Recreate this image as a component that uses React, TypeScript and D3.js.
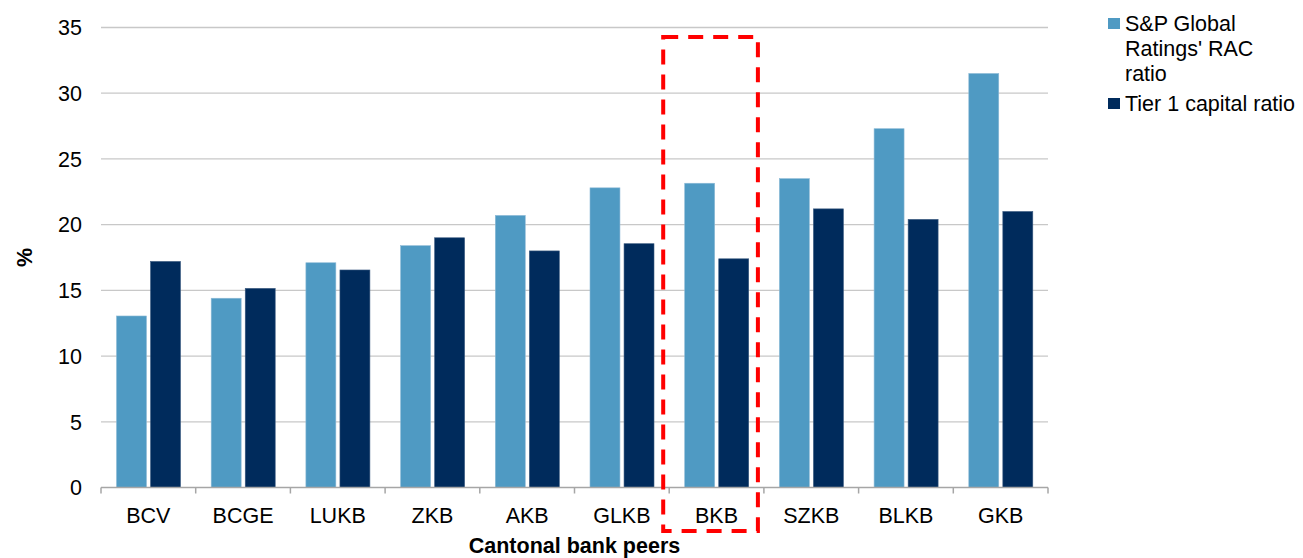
import React, { useRef, useEffect } from "react";
import * as d3 from "d3";

const banks = ["BCV", "BCGE", "LUKB", "ZKB", "AKB", "GLKB", "BKB", "SZKB", "BLKB", "GKB"];
const racRatio = [13.05, 14.4, 17.1, 18.4, 20.7, 22.8, 23.15, 23.5, 27.3, 31.5];
const tier1Ratio = [17.2, 15.15, 16.55, 19.0, 18.0, 18.55, 17.4, 21.2, 20.4, 21.0];
const seriesNames = ["S&P Global Ratings' RAC ratio", "Tier 1 capital ratio"];
const legendLines = [["S&P Global", "Ratings' RAC", "ratio"], ["Tier 1 capital ratio"]];
const yTicks = [0, 5, 10, 15, 20, 25, 30, 35];
const highlighted = "BKB";

const COLORS = ["#4F9AC3", "#002B5C"];
const FONT = "'Liberation Sans', Arial, sans-serif";
const FS = 21.5;

export default function App() {
  const svgRef = useRef<SVGSVGElement>(null);

  useEffect(() => {
    if (!svgRef.current) return;
    const svg = d3.select(svgRef.current);
    svg.selectAll("*").remove();

    const width = 1303;
    const height = 558;
    const margin = { top: 27.5, left: 101, right: 255, bottom: 70.5 };
    const innerW = width - margin.left - margin.right;
    const innerH = height - margin.top - margin.bottom;

    svg.attr("width", width).attr("height", height);
    const g = svg.append("g").attr("transform", `translate(${margin.left},${margin.top})`);

    const x = d3.scaleBand<string>().domain(banks).range([0, innerW]).padding(0);
    const xs = d3.scaleBand<string>().domain(seriesNames).range([15.5, 79.5]).paddingInner(0.12);
    const y = d3.scaleLinear().domain([0, 35]).range([innerH, 0]);

    // gridlines
    g.selectAll(".grid")
      .data(yTicks.filter(t => t > 0))
      .enter()
      .append("line")
      .attr("x1", 0)
      .attr("x2", innerW)
      .attr("y1", d => y(d))
      .attr("y2", d => y(d))
      .attr("stroke", "#C8C8C8")
      .attr("stroke-width", 1.3);

    // y labels
    g.selectAll(".ylab")
      .data(yTicks)
      .enter()
      .append("text")
      .attr("x", -19)
      .attr("y", d => y(d))
      .attr("dy", "0.36em")
      .attr("text-anchor", "end")
      .attr("font-family", FONT)
      .attr("font-size", FS)
      .attr("fill", "#000")
      .text(d => d);

    // bars
    const rows = banks.map((b, i) => ({ bank: b, values: [racRatio[i], tier1Ratio[i]] }));
    const groups = g.selectAll(".grp")
      .data(rows)
      .enter()
      .append("g")
      .attr("transform", d => `translate(${x(d.bank)},0)`);

    groups.selectAll("rect")
      .data(d => d.values.map((v, k) => ({ v, k })))
      .enter()
      .append("rect")
      .attr("x", d => xs(seriesNames[d.k])!)
      .attr("width", xs.bandwidth())
      .attr("y", d => y(d.v))
      .attr("height", d => y(0) - y(d.v))
      .attr("fill", d => COLORS[d.k])
      .attr("stroke", d => (d.k === 0 ? "#8CBAD6" : "#3A5A80"))
      .attr("stroke-width", 0.6);

    // x axis line and ticks
    g.append("line")
      .attr("x1", 0)
      .attr("x2", innerW)
      .attr("y1", y(0))
      .attr("y2", y(0))
      .attr("stroke", "#A6A6A6")
      .attr("stroke-width", 1.5);

    const bounds = banks.map(b => x(b)!).concat([innerW]);
    g.selectAll(".xtick")
      .data(bounds)
      .enter()
      .append("line")
      .attr("x1", d => d)
      .attr("x2", d => d)
      .attr("y1", y(0))
      .attr("y2", y(0) + 6)
      .attr("stroke", "#A6A6A6")
      .attr("stroke-width", 1.5);

    g.selectAll(".xlab")
      .data(banks)
      .enter()
      .append("text")
      .attr("x", d => x(d)! + x.bandwidth() / 2)
      .attr("y", y(0) + 35)
      .attr("text-anchor", "middle")
      .attr("font-family", FONT)
      .attr("font-size", FS)
      .attr("fill", "#000")
      .text(d => d);

    // axis titles
    g.append("text")
      .attr("x", innerW / 2)
      .attr("y", y(0) + 65)
      .attr("text-anchor", "middle")
      .attr("font-family", FONT)
      .attr("font-size", FS)
      .attr("font-weight", "bold")
      .attr("fill", "#000")
      .text("Cantonal bank peers");

    g.append("text")
      .attr("transform", `translate(${-69},${y(17.5)}) rotate(-90)`)
      .attr("text-anchor", "middle")
      .attr("font-family", FONT)
      .attr("font-size", FS)
      .attr("font-weight", "bold")
      .attr("fill", "#000")
      .text("%");

    // highlight box around BKB
    g.append("rect")
      .attr("x", x(highlighted)! - 6)
      .attr("y", y(35) + 9.5)
      .attr("width", x.bandwidth())
      .attr("height", y(0) - y(35) + 34)
      .attr("fill", "none")
      .attr("stroke", "#FF0000")
      .attr("stroke-width", 4)
      .attr("stroke-dasharray", "15,10");

    // legend
    const legend = svg.append("g").attr("transform", "translate(1108,0)");
    const baselines = [31, 111];
    legendLines.forEach((lines, k) => {
      legend.append("rect")
        .attr("x", 0)
        .attr("y", baselines[k] - 13)
        .attr("width", 12)
        .attr("height", 11)
        .attr("fill", COLORS[k]);
      lines.forEach((line, j) => {
        legend.append("text")
          .attr("x", 17)
          .attr("y", baselines[k] + j * 25)
          .attr("font-family", FONT)
          .attr("font-size", FS)
          .attr("fill", "#000")
          .text(line);
      });
    });
  }, []);

  return (
    <div>
      <style>{"body{margin:0;}"}</style>
      <svg ref={svgRef} style={{ display: "block" }} />
    </div>
  );
}
